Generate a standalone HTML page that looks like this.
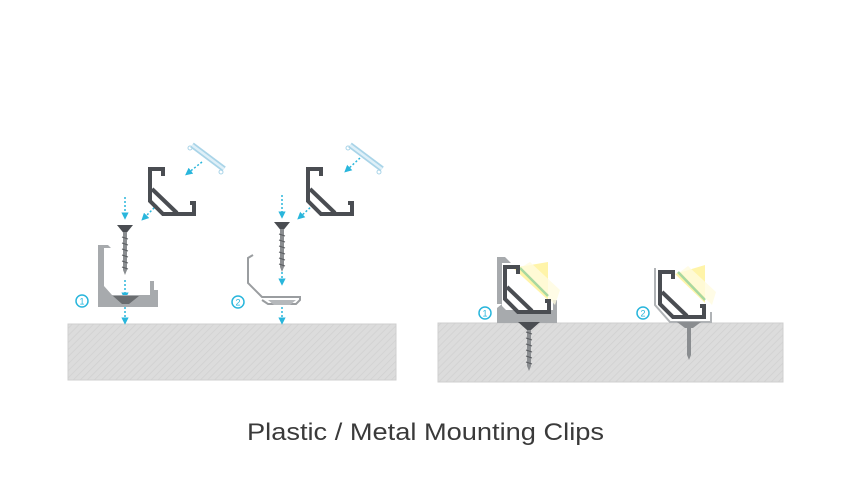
<!DOCTYPE html>
<html><head><style>html,body{margin:0;padding:0;background:#fff;width:850px;height:500px;overflow:hidden}</style></head>
<body>
<svg width="850" height="500" viewBox="0 0 850 500" xmlns="http://www.w3.org/2000/svg">
<defs>
<pattern id="h" width="5" height="5" patternUnits="userSpaceOnUse" patternTransform="rotate(45)">
<rect width="5" height="5" fill="#dcdcdc"/><line x1="0" y1="0" x2="0" y2="5" stroke="#d0d0d0" stroke-width="1.5"/>
</pattern>
<g id="prof" fill="none" stroke="#4a4d52" stroke-width="4" stroke-linejoin="miter">
<path d="M15,9 V2 H2 V34 L15,47 H46 V36 H42"/>
<path d="M4,22 L29,46"/>
</g>
<g id="diff">
<line x1="0" y1="0" x2="32" y2="24" stroke="#a9d4e8" stroke-width="6"/>
<line x1="0" y1="0" x2="32" y2="24" stroke="#dff0f8" stroke-width="2.5"/>
<circle cx="-2" cy="3" r="2" fill="none" stroke="#a9d4e8" stroke-width="1"/>
<circle cx="29" cy="27" r="2" fill="none" stroke="#a9d4e8" stroke-width="1"/>
</g>
<g id="screw">
<path d="M-8,0 H8 L1.5,8 H-1.5 Z" fill="#4a4d52"/>
<rect x="-2" y="7" width="4" height="38" fill="#8a8d90"/>
<path d="M-2,45 L0,50 L2,45Z" fill="#8a8d90"/>
<g stroke="#5a5d60" stroke-width="1"><line x1="-3" y1="12" x2="3" y2="14"/><line x1="-3" y1="18" x2="3" y2="20"/><line x1="-3" y1="24" x2="3" y2="26"/><line x1="-3" y1="30" x2="3" y2="32"/><line x1="-3" y1="36" x2="3" y2="38"/><line x1="-3" y1="42" x2="3" y2="44"/></g>
</g>
<marker id="ar" viewBox="0 0 10 10" refX="5" refY="5" markerWidth="5" markerHeight="5" orient="auto"><path d="M0,0 L10,5 L0,10Z" fill="#29b6dc"/></marker>
</defs>

<rect x="68" y="324" width="328" height="56" fill="url(#h)" stroke="#cfcfcf"/>
<rect x="438" y="323" width="345" height="59" fill="url(#h)" stroke="#cfcfcf"/>

<g stroke="#29b6dc" stroke-width="1.5" stroke-dasharray="2,2" fill="none" marker-end="url(#ar)">
<line x1="125" y1="197" x2="125" y2="216"/>
<line x1="157" y1="205" x2="144" y2="218"/>
<line x1="202" y1="162" x2="188" y2="173"/>
<line x1="125" y1="280" x2="125" y2="296"/>
<line x1="125" y1="307" x2="125" y2="321"/>
<line x1="282" y1="195" x2="282" y2="215"/>
<line x1="313" y1="205" x2="300" y2="217"/>
<line x1="360" y1="158" x2="347" y2="170"/>
<line x1="282" y1="268" x2="282" y2="282"/>
<line x1="282" y1="307" x2="282" y2="321"/>
</g>

<use href="#prof" x="148" y="167"/>
<use href="#diff" x="192" y="145"/>
<use href="#prof" x="306" y="167"/>
<use href="#diff" x="350" y="145"/>
<use href="#screw" x="125" y="225"/>
<use href="#screw" x="282" y="222"/>

<path d="M98,245 H108 L111,248 H104 V286 L112,295 H150 V281 H154 V290 L158,290 V307 H98 Z" fill="#a7aaad"/>
<path d="M113,296 H139 L129,304 H122 Z" fill="#6a6d70"/>
<path d="M253,255 L248,258 V283 L262,297 H300 V300 L296,304 H268 L262,300" fill="none" stroke="#9a9da0" stroke-width="2"/>
<path d="M268,300 H296 L290,305 H274Z" fill="#b5b8bb"/>

<g fill="none" stroke="#29b6dc" stroke-width="1.5">
<circle cx="82" cy="301" r="6"/><circle cx="238" cy="302" r="6"/>
<circle cx="485" cy="313" r="6"/><circle cx="643" cy="313" r="6"/>
</g>
<g fill="#29b6dc" font-family="Liberation Sans, sans-serif" font-size="9" text-anchor="middle">
<text x="82" y="304.5">1</text><text x="238" y="305.5">2</text><text x="485" y="316.5">1</text><text x="643" y="316.5">2</text>
</g>

<path d="M497,257 H505 L511,263 H502 V306 L506,310 H553 V300 H557 V323 H497 V308 L502,304 H497 Z" fill="#a7aaad"/>
<rect x="527" y="326" width="4" height="40" fill="#8a8d90"/>
<g stroke="#5a5d60" stroke-width="1"><line x1="526" y1="332" x2="532" y2="334"/><line x1="526" y1="338" x2="532" y2="340"/><line x1="526" y1="344" x2="532" y2="346"/><line x1="526" y1="350" x2="532" y2="352"/><line x1="526" y1="356" x2="532" y2="358"/><line x1="526" y1="362" x2="532" y2="364"/></g>
<path d="M527,366 L529,371 L531,366Z" fill="#8a8d90"/>
<path d="M518,322 H540 L531,330 H527 Z" fill="#4a4d52"/>
<path d="M513,268 L548,300 L548,262 Z" fill="#fff3a0" opacity="0.9"/>
<path d="M520,268 L555,305 L560,290 L530,262Z" fill="#fffbe0" opacity="0.8"/>
<line x1="520" y1="268" x2="548" y2="296" stroke="#a8d8a0" stroke-width="2.5"/>
<use href="#prof" x="503" y="265"/>
<path d="M675,274 L705,303 L705,265 Z" fill="#fff3a0" opacity="0.9"/>
<path d="M680,272 L712,305 L716,292 L688,266Z" fill="#fffbe0" opacity="0.8"/>
<line x1="678" y1="272" x2="705" y2="300" stroke="#a8d8a0" stroke-width="2.5"/>
<path d="M655,268 V305 L670,322 H711 V312" fill="none" stroke="#b0b3b6" stroke-width="2"/>
<use href="#prof" x="658" y="270"/>
<path d="M677,322 H701 L693,328 H685Z" fill="#8a8d90"/>
<rect x="687" y="327" width="4" height="28" fill="#8a8d90"/>
<path d="M687,355 L689,360 L691,355Z" fill="#8a8d90"/>

<text x="247" y="440" font-family="Liberation Sans, sans-serif" font-size="24" fill="#3a3a3a" textLength="357" lengthAdjust="spacingAndGlyphs">Plastic / Metal Mounting Clips</text>
</svg>
</body></html>
